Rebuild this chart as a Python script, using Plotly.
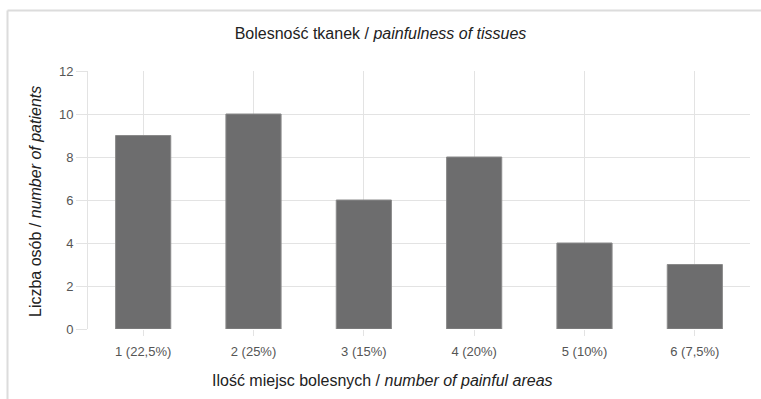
import plotly.graph_objects as go

categories = ["1 (22,5%)", "2 (25%)", "3 (15%)", "4 (20%)", "5 (10%)", "6 (7,5%)"]
patients = [9, 10, 6, 8, 4, 3]
y_ticks = [0, 2, 4, 6, 8, 10, 12]

title_text = "Bolesność tkanek / <i>painfulness of tissues</i>"
x_title = "Ilość miejsc bolesnych / <i>number of painful areas</i>"
y_title = "Liczba osób / <i>number of patients</i>"

FONT = "Liberation Sans, Arial, sans-serif"
GRID = "#e3e3e3"

W, H = 761, 399
L, R, T, B = 88, 11, 71, 70
PW, PH = W - L - R, H - T - B


def px(x):
    return (x - L) / PW


def py(y):
    return (H - B - y) / PH


fig = go.Figure(
    go.Bar(
        x=categories,
        y=patients,
        width=0.5,
        marker=dict(color="#6d6d6e", line=dict(color="#8a8a8a", width=1)),
        hoverinfo="x+y",
    )
)

fig.update_layout(
    width=W,
    height=H,
    margin=dict(l=L, r=R, t=T, b=B),
    paper_bgcolor="white",
    plot_bgcolor="white",
    showlegend=False,
    title=dict(
        text=title_text,
        x=0.5,
        xref="container",
        xanchor="center",
        y=1 - 33 / H,
        yanchor="middle",
        font=dict(family=FONT, size=16, color="#222222"),
    ),
    font=dict(family=FONT),
    annotations=[
        dict(text=x_title, xref="paper", yref="paper", x=px(382), y=py(380),
             xanchor="center", yanchor="middle", showarrow=False,
             font=dict(family=FONT, size=16, color="#222222")),
        dict(text=y_title, xref="paper", yref="paper", x=px(35), y=py(202),
             xanchor="center", yanchor="middle", showarrow=False, textangle=-90,
             font=dict(family=FONT, size=16, color="#222222")),
    ],
    shapes=[
        dict(type="line", xref="paper", yref="paper",
             x0=px(7.5), x1=px(761), y0=py(10.5), y1=py(10.5),
             line=dict(color="#dcdcdc", width=2)),
        dict(type="line", xref="paper", yref="paper",
             x0=px(7.5), x1=px(7.5), y0=py(10.5), y1=py(399),
             line=dict(color="#dcdcdc", width=2)),
    ],
)

fig.update_xaxes(
    type="category",
    range=[-0.5, 5.5],
    automargin=False,
    showgrid=True,
    gridcolor=GRID,
    gridwidth=1,
    ticks="outside",
    ticklen=6,
    tickcolor=GRID,
    ticklabelstandoff=4,
    tickfont=dict(family=FONT, size=13, color="#555555"),
    showline=False,
    zeroline=False,
)

fig.update_yaxes(
    range=[0, 12],
    tickvals=y_ticks,
    automargin=False,
    showgrid=True,
    gridcolor=GRID,
    gridwidth=1,
    ticks="outside",
    ticklen=11,
    tickcolor=GRID,
    tickfont=dict(family=FONT, size=13, color="#555555"),
    showline=True,
    linecolor=GRID,
    linewidth=1,
    zeroline=False,
)

fig.write_html(
    "out.html",
    config={"displayModeBar": False},
    post_script="document.body.style.margin='0';",
)
